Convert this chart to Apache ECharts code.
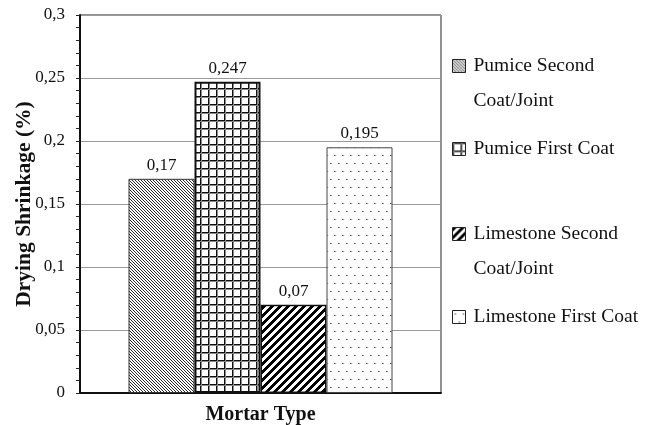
<!DOCTYPE html>
<html>
<head>
<meta charset="utf-8">
<script src="https://cdn.jsdelivr.net/npm/echarts@6/dist/echarts.min.js"></script>
<style>
html,body{margin:0;padding:0;background:#fff;}
#chart{width:652px;height:425px;}
</style>
</head>
<body>
<div id="chart"></div>
<script>
// ---- data ----
const categories = ['Mortar Type'];
const seriesNames = ['Pumice Second Coat/Joint', 'Pumice First Coat', 'Limestone Second Coat/Joint', 'Limestone First Coat'];
const legendLabels = ['Pumice Second\nCoat/Joint', 'Pumice First Coat', 'Limestone Second\nCoat/Joint', 'Limestone First Coat'];
const values = [0.17, 0.247, 0.07, 0.195];
const valueLabels = ['0,17', '0,247', '0,07', '0,195'];
const yTickLabels = ['0', '0,05', '0,1', '0,15', '0,2', '0,25', '0,3'];

const FONT = "'Liberation Serif','Times New Roman',serif";

function makeCanvas(w, h, draw) {
  const c = document.createElement('canvas');
  c.width = w; c.height = h;
  const ctx = c.getContext('2d');
  ctx.fillStyle = '#fff';
  ctx.fillRect(0, 0, w, h);
  draw(ctx, w, h);
  return c;
}
// fine "\" hatch
const pat1 = makeCanvas(3, 3, (ctx) => {
  ctx.fillStyle = '#2a2a2a';
  for (let i = 0; i < 3; i++) ctx.fillRect(i, i, 1, 1);
});
// grid
const pat2 = makeCanvas(8, 8, (ctx) => {
  ctx.fillStyle = '#111';
  ctx.fillRect(0, 0, 8, 1);
  ctx.fillRect(0, 0, 1, 8);
  ctx.fillStyle = '#888';
  ctx.fillRect(0, 1, 8, 1);
  ctx.fillRect(1, 0, 1, 8);
});
// thick "/" hatch
const pat3 = makeCanvas(8, 8, (ctx) => {
  ctx.fillStyle = '#000';
  for (let y = 0; y < 8; y++) for (let x = 0; x < 8; x++) {
    if (((x + y) % 8) < 4) ctx.fillRect(x, y, 1, 1);
  }
});
// dots
const pat4 = makeCanvas(8, 16, (ctx) => {
  ctx.fillStyle = '#444';
  ctx.fillRect(2, 3, 1, 1);
  ctx.fillRect(6, 11, 1, 1);
  ctx.fillStyle = '#999';
  ctx.fillRect(3, 3, 1, 1);
  ctx.fillRect(7, 11, 1, 1);
});
const patterns = [pat1, pat2, pat3, pat4];
const borderWidths = [1, 2, 1.5, 1];
const borderColors = ['#333', '#111', '#111', '#444'];

const chart = echarts.init(document.getElementById('chart'));

const legendCenters = [66, 149, 234, 317];
const legends = seriesNames.map((n, i) => {
  const twoLine = legendLabels[i].indexOf('\n') >= 0;
  return {
    data: [n],
    orient: 'vertical',
    left: 452,
    top: legendCenters[i] - (twoLine ? 52.5 : 17.5),
    padding: 0,
    itemWidth: 13,
    itemHeight: 13,
    icon: 'rect',
    itemStyle: { borderWidth: 1, borderColor: '#222' },
    formatter: (name) => {
      const t = legendLabels[seriesNames.indexOf(name)];
      return t.indexOf('\n') >= 0 ? '\u00a0\n' + t : t;
    },
    textStyle: {
      fontFamily: FONT, fontSize: 19.5, color: '#111', lineHeight: 35,
      padding: [0, 0, 0, 3]
    },
    selectedMode: false
  };
});

chart.setOption({
  animation: false,
  backgroundColor: '#fff',
  grid: { left: 80, right: 211, top: 15, bottom: 32, show: true, borderColor: '#222', borderWidth: 1, outerBoundsMode: 'none', containLabel: false },
  legend: legends,
  xAxis: {
    type: 'category',
    data: categories,
    name: categories[0],
    nameLocation: 'middle',
    nameGap: 12,
    nameTextStyle: { fontFamily: FONT, fontSize: 20, fontWeight: 'bold', color: '#111', verticalAlign: 'top' },
    axisLine: { lineStyle: { color: '#111', width: 2 } },
    axisTick: { show: false },
    axisLabel: { show: false }
  },
  yAxis: {
    type: 'value',
    min: 0, max: 0.3, interval: 0.05,
    name: 'Drying Shrinkage (%)',
    nameLocation: 'middle',
    nameGap: 45,
    nameMoveOverlap: false,
    nameTextStyle: { fontFamily: FONT, fontSize: 21.5, fontWeight: 'bold', color: '#111' },
    axisLine: { show: true, lineStyle: { color: '#111', width: 2 } },
    axisTick: { show: true, length: 4, lineStyle: { color: '#222', width: 1 } },
    minorTick: { show: true, splitNumber: 5, length: 4, lineStyle: { color: '#222', width: 1 } },
    axisLabel: {
      fontFamily: FONT, fontSize: 17, color: '#111', margin: 15,
      formatter: (v, idx) => yTickLabels[idx]
    },
    splitLine: { lineStyle: { color: '#999', width: 1 } }
  },
  series: seriesNames.map((n, i) => ({
    name: n,
    type: 'bar',
    data: [values[i]],
    barWidth: 66,
    barGap: '0%',
    itemStyle: {
      color: { image: patterns[i], repeat: 'repeat' },
      borderColor: borderColors[i],
      borderWidth: borderWidths[i]
    },
    label: {
      show: true, position: 'top', distance: 5,
      fontFamily: FONT, fontSize: 17, color: '#111',
      formatter: () => valueLabels[i]
    }
  }))
});
</script>
</body>
</html>
